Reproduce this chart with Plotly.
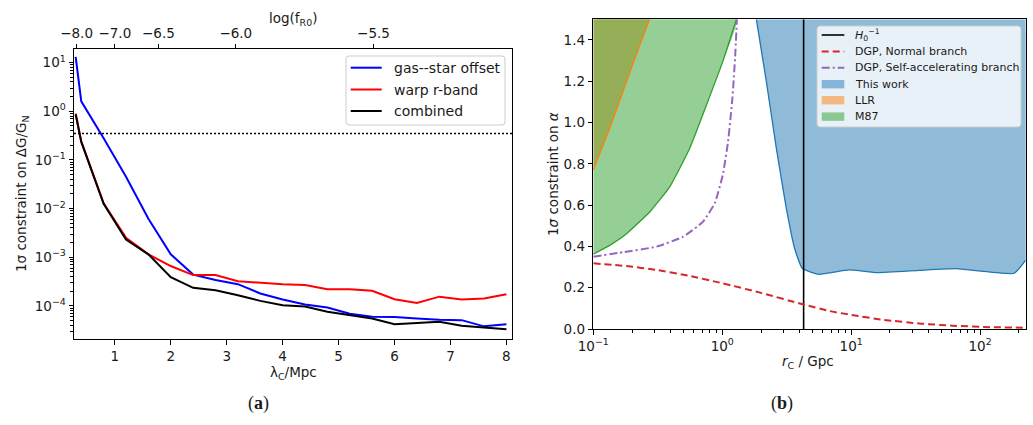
import numpy as np
import plotly.graph_objects as go

# ---------------- Panel (a) data ----------------
LAMBDA_C = [0.3, 0.4, 0.8, 1.2, 1.6, 2.0, 2.4, 2.8, 3.2, 3.6, 4.0, 4.4, 4.8, 5.2, 5.6, 6.0, 6.4, 6.8, 7.2, 7.6, 8.0]
GAS_STAR = [13.2, 1.6, 0.28, 0.045, 6.2e-3, 1.15e-3, 4.4e-4, 3.4e-4, 2.8e-4, 1.8e-4, 1.35e-4, 1.07e-4,
            9.3e-5, 6.9e-5, 6.0e-5, 5.9e-5, 5.5e-5, 5.2e-5, 5.1e-5, 3.8e-5, 4.2e-5]
WARP_R = [0.9, 0.24, 0.0128, 2.5e-3, 1.15e-3, 6.6e-4, 4.3e-4, 4.3e-4, 3.2e-4, 2.95e-4, 2.8e-4, 2.7e-4,
          2.2e-4, 2.2e-4, 2.05e-4, 1.37e-4, 1.15e-4, 1.55e-4, 1.35e-4, 1.42e-4, 1.74e-4]
COMBINED = [0.86, 0.235, 0.0125, 2.3e-3, 1.15e-3, 3.9e-4, 2.35e-4, 2.1e-4, 1.66e-4, 1.27e-4, 1.03e-4, 9.7e-5,
            7.6e-5, 6.4e-5, 5.5e-5, 4.2e-5, 4.4e-5, 4.7e-5, 3.9e-5, 3.6e-5, 3.3e-5]
SERIES_A_NAMES = ["gas--star offset", "warp r-band", "combined"]
SERIES_A_COLORS = ["#0000ff", "#ff0000", "#000000"]
THRESHOLD = 0.35
X_RANGE_A = [0.27, 8.1]
TOP_TICK_LOGF = [-8.0, -7.0, -6.5, -6.0, -5.5]
TOP_TICK_LABELS = ["\u22128.0", "\u22127.0", "\u22126.5", "\u22126.0", "\u22125.5"]
Y_TICKS_A = [1e-4, 1e-3, 1e-2, 1e-1, 1e0, 1e1]
Y_TICK_LABELS_A = ["10<sup>\u22124</sup>", "10<sup>\u22123</sup>", "10<sup>\u22122</sup>",
                   "10<sup>\u22121</sup>", "10<sup>0</sup>", "10<sup>1</sup>"]

# ---------------- Panel (b) data ----------------
ALPHA_TOP = 1.5
H0_INV = 4.28  # Gpc
NORMAL_RC = [0.1, 0.18, 0.31, 0.55, 1.01, 2.0, 4.2, 6.8, 10.1, 18, 35, 61, 120, 226]
NORMAL_A = [0.318, 0.305, 0.286, 0.258, 0.221, 0.175, 0.12, 0.087, 0.068, 0.044, 0.026, 0.016, 0.009, 0.006]
SELFACC_RC = [0.1, 0.171, 0.31, 0.498, 0.71, 0.875, 1.01, 1.11, 1.2, 1.26, 1.3]
SELFACC_A = [0.35, 0.372, 0.399, 0.447, 0.52, 0.609, 0.746, 0.907, 1.118, 1.32, 1.5]
THISWORK_RC = [1.84, 2.2, 2.63, 3.14, 3.64, 4.17, 5.6, 9.6, 16, 34, 65, 184, 226]
THISWORK_A = [1.5, 1.198, 0.875, 0.585, 0.391, 0.294, 0.265, 0.286, 0.273, 0.284, 0.292, 0.27, 0.334]
LLR_RC = [0.1, 0.134, 0.181, 0.23, 0.272]
LLR_A = [0.77, 0.972, 1.198, 1.376, 1.5]
M87_RC = [0.1, 0.134, 0.176, 0.275, 0.393, 0.56, 0.755, 1.01, 1.29]
M87_A = [0.362, 0.405, 0.455, 0.568, 0.69, 0.875, 1.085, 1.295, 1.5]
X_RANGE_B = [0.1, 226]
X_TICKS_B = [0.1, 1, 10, 100]
X_TICK_LABELS_B = ["10<sup>\u22121</sup>", "10<sup>0</sup>", "10<sup>1</sup>", "10<sup>2</sup>"]
Y_TICKS_B = [0.0, 0.2, 0.4, 0.6, 0.8, 1.0, 1.2, 1.4]

FONT = "DejaVu Sans"
TXT = "#1a1a1a"
W, H = 1033, 425
TICK_SIZE = 13.5
TITLE_SIZE = 13.5

C_BLUE, C_ORANGE, C_GREEN = "#1f77b4", "#ff7f0e", "#2ca02c"
F_BLUE, F_ORANGE, F_GREEN = "rgba(31,119,180,0.5)", "rgba(255,127,14,0.5)", "rgba(44,160,44,0.5)"
C_RED, C_PURPLE = "#d62728", "#9467bd"
DASH_NORMAL = "7px,4px"
DASH_SA = "8px,3px,2px,3px"

fig = go.Figure()

# ---- panel (a) traces ----
for ys, nm, col in zip([GAS_STAR, WARP_R, COMBINED], SERIES_A_NAMES, SERIES_A_COLORS):
    fig.add_trace(go.Scatter(x=LAMBDA_C, y=ys, mode="lines", name=nm, showlegend=False,
                             line=dict(color=col, width=2), xaxis="x", yaxis="y"))
fig.add_trace(go.Scatter(x=X_RANGE_A, y=[THRESHOLD, THRESHOLD], mode="lines", showlegend=False,
                         line=dict(color="#000000", width=1.5, dash="2px,2px"), xaxis="x", yaxis="y"))
top_pos = [10 ** ((f + 7.0) / 2.0) for f in TOP_TICK_LOGF]
fig.add_trace(go.Scatter(x=top_pos, y=[None] * len(top_pos), mode="lines", showlegend=False,
                         hoverinfo="skip", xaxis="x3", yaxis="y"))

# ---- panel (b) fills ----
def poly(xs, ys, close_x):
    return list(xs) + [close_x], list(ys) + [ALPHA_TOP]

for xs, ys, cx, fc, nm in [(THISWORK_RC, THISWORK_A, THISWORK_RC[-1], F_BLUE, "This work"),
                           (LLR_RC, LLR_A, LLR_RC[0], F_ORANGE, "LLR"),
                           (M87_RC, M87_A, M87_RC[0], F_GREEN, "M87")]:
    px_, py_ = poly(xs, ys, cx)
    fig.add_trace(go.Scatter(x=px_, y=py_, mode="lines", fill="toself", fillcolor=fc,
                             line=dict(width=0, color=fc, shape="spline", smoothing=0.4), name=nm,
                             showlegend=False, xaxis="x2", yaxis="y2"))
# edges
for xs, ys, c in [(THISWORK_RC, THISWORK_A, C_BLUE), (LLR_RC, LLR_A, C_ORANGE), (M87_RC, M87_A, C_GREEN)]:
    fig.add_trace(go.Scatter(x=xs, y=ys, mode="lines", line=dict(color=c, width=1.3, shape="spline", smoothing=0.4),
                             showlegend=False, xaxis="x2", yaxis="y2"))

fig.add_trace(go.Scatter(x=[H0_INV, H0_INV], y=[0, ALPHA_TOP], mode="lines", showlegend=False,
                         line=dict(color="#000000", width=1.6), xaxis="x2", yaxis="y2"))
fig.add_trace(go.Scatter(x=NORMAL_RC, y=NORMAL_A, mode="lines", showlegend=False,
                         line=dict(color=C_RED, width=2, dash=DASH_NORMAL, shape="spline", smoothing=0.5),
                         xaxis="x2", yaxis="y2"))
fig.add_trace(go.Scatter(x=SELFACC_RC, y=SELFACC_A, mode="lines", showlegend=False,
                         line=dict(color=C_PURPLE, width=2, dash=DASH_SA, shape="spline", smoothing=0.4),
                         xaxis="x2", yaxis="y2"))

# ---- axes ----
axis_common = dict(showline=True, linecolor="#000000", linewidth=1, mirror=True, ticks="outside",
                   ticklen=4.5, tickwidth=1, tickcolor="#000000", showgrid=False, zeroline=False,
                   automargin=False,
                   tickfont=dict(family=FONT, size=TICK_SIZE, color=TXT))

minor_a = [m * 10.0 ** e for e in range(-5, 2) for m in range(2, 10)]
minor_b = [m * 10.0 ** e for e in range(-1, 3) for m in range(2, 10)]

def dom_x(a, b):
    return [a / W, b / W]

def dom_y(top, bottom):
    return [1 - bottom / H, 1 - top / H]

fig.update_layout(
    template="none",
    width=W, height=H, margin=dict(l=0, r=0, t=0, b=0, pad=0, autoexpand=False),
    paper_bgcolor="white", plot_bgcolor="white",
    font=dict(family=FONT, size=13, color=TXT),
    hovermode=False, showlegend=False,
    xaxis=dict(axis_common, domain=dom_x(74, 512), anchor="y", range=X_RANGE_A,
               tickvals=[1, 2, 3, 4, 5, 6, 7, 8]),
    yaxis=dict(axis_common, domain=dom_y(49, 339), anchor="x", type="log", range=[-4.68, 1.28],
               tickvals=Y_TICKS_A, ticktext=Y_TICK_LABELS_A,
               minor=dict(tickmode="array", tickvals=minor_a, ticks="outside", ticklen=2.6,
                          tickwidth=0.8, tickcolor="#000000")),
    xaxis3=dict(axis_common, overlaying="x", anchor="y", side="top", range=X_RANGE_A,
                tickvals=top_pos, ticktext=TOP_TICK_LABELS, mirror=False),
    xaxis2=dict(axis_common, domain=dom_x(593.3, 1025.7), anchor="y2", type="log",
                range=[np.log10(X_RANGE_B[0]), np.log10(X_RANGE_B[1])],
                tickvals=X_TICKS_B, ticktext=X_TICK_LABELS_B,
                minor=dict(tickmode="array", tickvals=minor_b, ticks="outside", ticklen=2.6,
                           tickwidth=0.8, tickcolor="#000000")),
    yaxis2=dict(axis_common, domain=dom_y(19.3, 329), anchor="x2", range=[0, ALPHA_TOP],
                tickvals=Y_TICKS_B, tickformat=".1f"),
)

def ann(text, x, y, angle=0, size=TITLE_SIZE, family=FONT, xanchor="center"):
    fig.add_annotation(text=text, x=x / W, y=1 - y / H, xref="paper", yref="paper", showarrow=False,
                       xanchor=xanchor, yanchor="middle", textangle=angle,
                       font=dict(family=family, size=size, color=TXT))

def P(px, py):
    return px / W, 1 - py / H

def rrect(x0, y0, x1, y1, r, fill):
    def p(a, b):
        X, Y = P(a, b)
        return f"{X:.5f},{Y:.5f}"
    path = (f"M {p(x0 + r, y0)} L {p(x1 - r, y0)} Q {p(x1, y0)} {p(x1, y0 + r)} "
            f"L {p(x1, y1 - r)} Q {p(x1, y1)} {p(x1 - r, y1)} L {p(x0 + r, y1)} "
            f"Q {p(x0, y1)} {p(x0, y1 - r)} L {p(x0, y0 + r)} Q {p(x0, y0)} {p(x0 + r, y0)} Z")
    fig.add_shape(type="path", path=path, xref="paper", yref="paper", fillcolor=fill,
                  line=dict(color="#cccccc", width=1), layer="above")

def leg_line(x0, x1, y, color, dash="solid", width=2):
    X0, Y = P(x0, y)
    X1, _ = P(x1, y)
    fig.add_shape(type="line", x0=X0, x1=X1, y0=Y, y1=Y, xref="paper", yref="paper",
                  line=dict(color=color, width=width, dash=dash), layer="above")

def leg_patch(x0, x1, y, color, h=8.4):
    X0, Y0 = P(x0, y - h / 2)
    X1, Y1 = P(x1, y + h / 2)
    fig.add_shape(type="rect", x0=X0, x1=X1, y0=Y1, y1=Y0, xref="paper", yref="paper",
                  fillcolor=color, line=dict(width=0), layer="above")

# ---- legend (a) ----
rrect(346, 56, 505, 125, 3, "rgba(255,255,255,0.8)")
for yy, nm, col in zip([67.7, 89.5, 111], SERIES_A_NAMES, SERIES_A_COLORS):
    leg_line(350.7, 381.7, yy, col, width=2)
    ann(nm, 391.5, yy, size=14, xanchor="left")

# ---- legend (b) ----
rrect(817, 26, 1021, 127, 3, "rgba(255,255,255,0.8)")
LEG_B_Y = [35, 51.5, 67.8, 84.2, 100.2, 116.6]
leg_line(821.7, 844.3, LEG_B_Y[0], "#000000", width=1.6)
ann("<i>H</i><sub>0</sub><sup>\u22121</sup>", 852.5, LEG_B_Y[0], size=11, xanchor="left")
leg_line(821.7, 844.3, LEG_B_Y[1], C_RED, dash=DASH_NORMAL, width=2)
ann("DGP, Normal branch", 852.5, LEG_B_Y[1], size=11, xanchor="left")
leg_line(821.7, 844.3, LEG_B_Y[2], C_PURPLE, dash=DASH_SA, width=2)
ann("DGP, Self-accelerating branch", 852.5, LEG_B_Y[2], size=11, xanchor="left")
for yy, fc, nm in zip(LEG_B_Y[3:], [F_BLUE, F_ORANGE, F_GREEN], ["This work", "LLR", "M87"]):
    leg_patch(821.7, 844.3, yy, fc)
    ann(nm, 852.5, yy, size=11, xanchor="left")

# ---- titles ----
ann("1\u03c3 constraint on \u0394G/G<sub>N</sub>", 22, 194, -90)
ann("\u03bb<sub>C</sub>/Mpc", 293, 373)
ann("log(f<sub>R0</sub>)", 293, 19)
ann("1<i>\u03c3</i> constraint on <i>\u03b1</i>", 553, 174, -90)
ann("<i>r</i><sub>C</sub> / Gpc", 808, 362)
ann("(<b>a</b>)", 258, 403, 0, 18, "Liberation Serif")
ann("(<b>b</b>)", 782, 403, 0, 18, "Liberation Serif")

fig.write_html("out.html", config={"displayModeBar": False},
               post_script="document.body.style.margin='0px';document.body.style.overflow='hidden';")
